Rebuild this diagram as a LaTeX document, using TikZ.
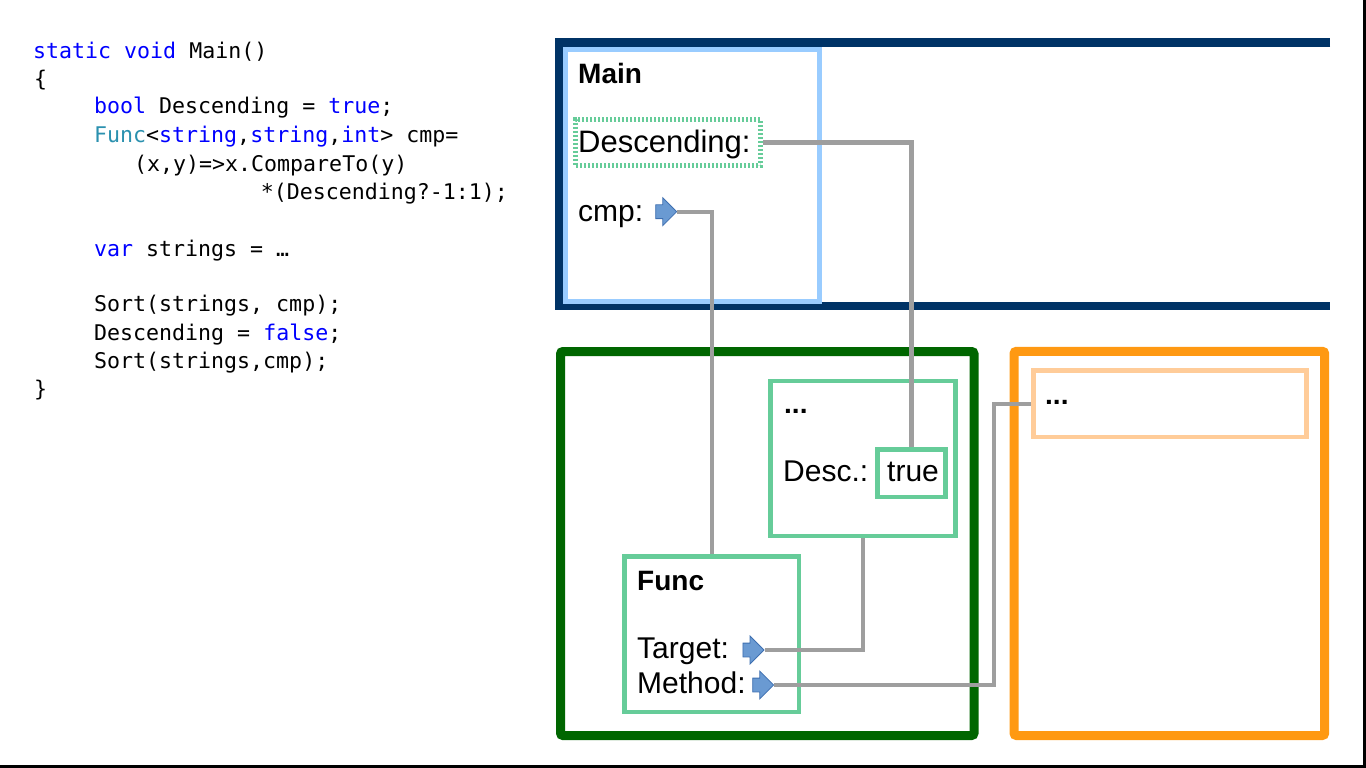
\documentclass[tikz,border=0pt]{standalone}
\usepackage{fontspec}
\setmainfont{Liberation Sans}
\newfontfamily\codefont{DejaVu Sans Mono}
\usetikzlibrary{shapes.arrows}
\definecolor{kw}{RGB}{0,0,255}
\definecolor{ty}{RGB}{43,145,175}
\definecolor{darkblue}{RGB}{0,51,102}
\definecolor{lightblue}{RGB}{153,204,255}
\definecolor{darkgreen}{RGB}{0,102,0}
\definecolor{tealgreen}{RGB}{102,204,153}
\definecolor{orangec}{RGB}{255,153,18}
\definecolor{lightorange}{RGB}{255,204,153}
\definecolor{connc}{RGB}{158,158,158}
\definecolor{arrfill}{RGB}{106,154,210}
\definecolor{arrdraw}{RGB}{62,111,176}
\tikzset{
  code/.style={anchor=base west, inner sep=0pt, font=\codefont\fontsize{21.6}{28}\selectfont},
  lbl/.style={anchor=base west, inner sep=0pt, font=\fontsize{30}{34}\selectfont},
  blbl/.style={anchor=base west, inner sep=0pt, font=\bfseries\fontsize{28}{32}\selectfont},
  boxc/.style={draw=#1, rectangle, inner sep=0pt},
  frame/.style={draw=#1, rectangle, inner sep=0pt, line width=9pt, rounded corners=2.5pt},
  blockarrow/.style={single arrow, draw=arrdraw, fill=arrfill, line width=0.8pt,
    minimum height=21pt, inner xsep=0pt, inner ysep=6.5pt, single arrow head extend=7pt},
  conn/.style={draw=connc, line width=4.3pt}
}
\begin{document}
\begin{tikzpicture}[x=1pt,y=-1pt]
\useasboundingbox (0,0) rectangle (1366,768);
\fill[white] (0,0) rectangle (1366,768);
% slide edges
\draw[black, line width=3pt] (1364.5,0) -- (1364.5,766.5) -- (0,766.5);

% code
\node[code] (c1) at (33,58.3) {{\color{kw}static void} Main()};
\node[code] (c2) at (34,86.7) {\{};
\node[code] (c3) at (94,113.3) {{\color{kw}bool} Descending = {\color{kw}true};};
\node[code] (c4) at (94,142) {{\color{ty}Func}<{\color{kw}string},{\color{kw}string},{\color{kw}int}> cmp=};
\node[code] (c5) at (134,171) {(x,y)=>x.CompareTo(y)};
\node[code] (c6) at (260.7,199.8) {*(Descending?-1:1);};
\node[code] (c7) at (94,256.7) {{\color{kw}var} strings = …};
\node[code] (c8) at (94,311.7) {Sort(strings, cmp);};
\node[code] (c9) at (94,340) {Descending = {\color{kw}false};};
\node[code] (c10) at (94,368.3) {Sort(strings,cmp);};
\node[code] (c11) at (34,396.7) {\}};

% stack frame (dark blue, open right)
\draw[darkblue, line width=8.5pt] (1330,42.5) -- (559,42.5) -- (559,306) -- (1330,306);
% Main box
\node[boxc=lightblue, line width=5pt, minimum width=254pt, minimum height=252pt] (mainbox) at (692.5,175.5) {};
\node[blbl] (mainlbl) at (578,83.3) {Main};
\node[boxc=tealgreen, line width=5pt, dash pattern=on 2pt off 2pt, minimum width=185pt, minimum height=46.6pt] (descbox) at (668.3,142.5) {};
\node[lbl, font=\fontsize{31}{34}\selectfont] (desclbl) at (578,152.5) {Descending:};
\node[lbl] (cmplbl) at (578,221.7) {cmp:};
\node[blockarrow] (cmparr) at (662.7,211.7) {};

% heap (green)
\node[frame=darkgreen, minimum width=413.5pt, minimum height=384pt] (greenframe) at (767.25,543.5) {};
\node[boxc=tealgreen, line width=4.5pt, minimum width=185pt, minimum height=155pt] (dotsbox) at (863,458.3) {};
\node[blbl] (dotslbl) at (784,413.3) {...};
\node[lbl] (desclbl2) at (783,481.7) {Desc.:};
\node[boxc=tealgreen, line width=4.5pt, minimum width=67.8pt, minimum height=47.5pt] (truebox) at (911.6,473.45) {};
\node[lbl] (truelbl) at (887,481.7) {true};
\node[boxc=tealgreen, line width=4.5pt, minimum width=174.7pt, minimum height=155.9pt] (funcbox) at (711.85,634.25) {};
\node[blbl] (funclbl) at (637,590) {Func};
\node[lbl] (targetlbl) at (637,658.3) {Target:};
\node[blockarrow] (targetarr) at (750,650) {};
\node[lbl] (methodlbl) at (637,693.3) {Method:};
\node[blockarrow] (methodarr) at (759.7,685) {};

% orange
\node[frame=orangec, minimum width=310.7pt, minimum height=384.2pt] (orangeframe) at (1169.35,543.4) {};
\node[boxc=lightorange, line width=4.5pt, minimum width=273pt, minimum height=66.7pt] (orangeinner) at (1169.8,403.85) {};
\node[blbl] (odots) at (1045,404) {...};

% connectors
\coordinate (mcorner) at (994,404.5);
\draw[conn] (descbox.east) -| (truebox.north);
\draw[conn] (cmparr.east) -| (funcbox.north);
\draw[conn] (targetarr.east) -| (dotsbox.south);
\draw[conn] (methodarr.east) -| (mcorner) |- (orangeinner.west);
\end{tikzpicture}
\end{document}
